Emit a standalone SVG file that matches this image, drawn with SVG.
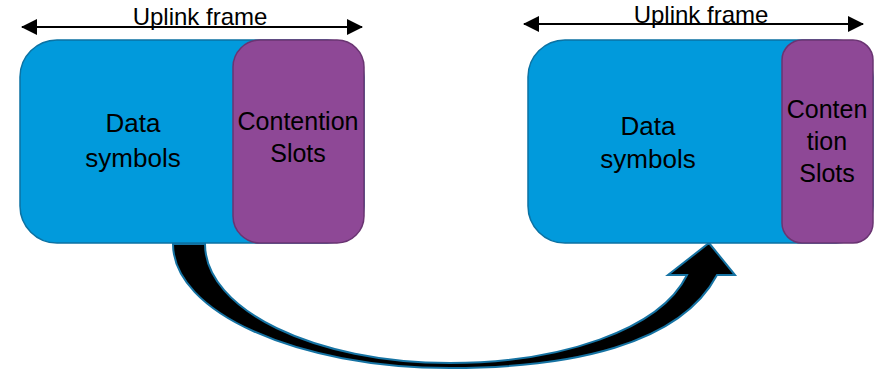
<svg xmlns="http://www.w3.org/2000/svg" width="880" height="373" viewBox="0 0 880 373">
<style>
.lbl{font-family:"Liberation Sans",Arial,sans-serif;font-size:25px;fill:#000;text-anchor:middle}
.big{font-size:26px}
.hdr{font-family:"Liberation Sans",Arial,sans-serif;font-size:24px;fill:#000;text-anchor:middle}
.blue{fill:#019ADC;stroke:#0B72A3;stroke-width:1.5}
.purple{fill:#8E4896;stroke:#6A3472;stroke-width:1.5}
.dim{stroke:#000;stroke-width:2;fill:none;marker-start:url(#ah);marker-end:url(#ah)}
</style>
<defs>
<marker id="ah" viewBox="0 0 16 16" refX="15" refY="8" markerWidth="16" markerHeight="16" markerUnits="userSpaceOnUse" orient="auto-start-reverse">
<path d="M0,0 L16,8 L0,16 Z" fill="#000"/>
</marker>
</defs>
<g id="connectors">
<path id="curved-arrow" d="M173,244 C173,312 297,368 450,368 C570,368 680,345 717,275 L735,275 L709,243 L668,275 L687,275 C660,330 560,363 450,363 C315,363 205,310 205,244 Z" fill="#000" stroke="#1673A3" stroke-width="2" stroke-linejoin="miter"/>
<line class="dim" x1="22" y1="27" x2="362" y2="27"/>
<line class="dim" x1="524" y1="24" x2="863" y2="24"/>
</g>
<g id="label-left">
<text class="hdr" x="200" y="25">Uplink frame</text>
</g>
<g id="label-right">
<text class="hdr" x="701" y="23">Uplink frame</text>
</g>
<g id="frame-left">
<rect class="blue" x="20" y="40" width="344" height="203" rx="37" ry="37"/>
<text class="lbl big" x="133" y="132">Data</text>
<text class="lbl big" x="133" y="167">symbols</text>
</g>
<g id="slots-left">
<rect class="purple" x="233" y="40" width="131" height="203" rx="27" ry="27"/>
<text class="lbl" x="298" y="130">Contention</text>
<text class="lbl" x="298" y="162">Slots</text>
</g>
<g id="frame-right">
<rect class="blue" x="528" y="40" width="345" height="203" rx="37" ry="37"/>
<text class="lbl big" x="648" y="135">Data</text>
<text class="lbl big" x="648" y="168">symbols</text>
</g>
<g id="slots-right">
<rect class="purple" x="782" y="40" width="91" height="203" rx="20" ry="20"/>
<text class="lbl" x="827" y="118">Conten</text>
<text class="lbl" x="827" y="150">tion</text>
<text class="lbl" x="827" y="182">Slots</text>
</g>
</svg>
